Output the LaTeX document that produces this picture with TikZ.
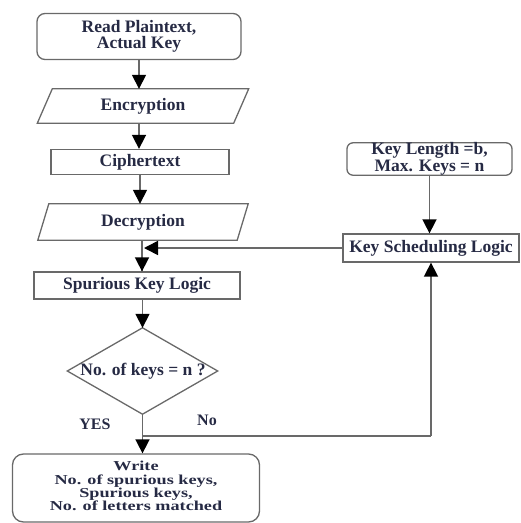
\documentclass[tikz,border=0pt]{standalone}
\usepackage{fontspec}
\setmainfont{Liberation Serif}
\usetikzlibrary{arrows.meta}
\definecolor{txtc}{RGB}{38,42,68}
\definecolor{linec}{RGB}{105,105,105}
\tikzset{
  txt/.style={font=\fontsize{17.5}{16.5}\selectfont\bfseries, text=txtc, align=center, inner sep=0pt},
  box/.style={txt, draw=linec, line width=1.3pt},
  rbox/.style={box, rounded corners=8pt},
  pshape/.style={draw=linec, line width=1.3pt},
  flow/.style={draw=linec, line width=1.6pt, -{Triangle[width=14pt,length=14pt,color=black]}},
  wire/.style={draw=linec, line width=1.6pt},
  lbl/.style={font=\fontsize{16}{16}\selectfont\bfseries, text=txtc, inner sep=0pt}
}
\begin{document}
\begin{tikzpicture}[x=1pt,y=-1pt]
\useasboundingbox (0,0) rectangle (521,523);
\begin{scope}
\clip (0,0) rectangle (521,523);
% main column
\node[rbox, minimum width=204pt, minimum height=46pt] (read) at (139,36.5) {Read Plaintext,\\Actual Key};
\node[txt, minimum width=196pt, minimum height=34pt] (enc) at (143,106) {Encryption};
\draw[pshape] ([xshift=-7.5pt]enc.south west) -- ([xshift=-7.5pt]enc.south east) -- ([xshift=7.5pt]enc.north east) -- ([xshift=7.5pt]enc.north west) -- cycle;
\node[box, minimum width=178pt, minimum height=25pt] (cipher) at (140,162) {Ciphertext};
\node[txt, minimum width=199pt, minimum height=36pt] (dec) at (143,222) {Decryption};
\draw[pshape] ([xshift=-5.5pt]dec.south west) -- ([xshift=-5.5pt]dec.south east) -- ([xshift=5.5pt]dec.north east) -- ([xshift=5.5pt]dec.north west) -- cycle;
\node[box, minimum width=206pt, minimum height=27pt] (spur) at (137,285.5) {Spurious Key Logic};
\coordinate (dc) at (142.5,371);
\node[draw=none, minimum width=150pt, minimum height=86pt, inner sep=0pt] (dia) at (dc) {};
\draw[pshape] (dia.west) -- (dia.north) -- (dia.east) -- (dia.south) -- cycle;
\node[txt] (q) at (143,371) {No. of keys = n ?};
\node[box, rounded corners=11pt, minimum width=247pt, minimum height=68pt] (write) at (136,488)
  {\scalebox{1.04}[0.78]{\begin{tabular}{@{}c@{}}Write\\No. of spurious keys,\\Spurious keys,\\No. of letters matched\end{tabular}}};
% right column
\node[rbox, rounded corners=6pt, minimum width=165pt, minimum height=32pt] (klen) at (429.5,159) {Key Length =b,\\Max. Keys = n};
\node[box, minimum width=176pt, minimum height=28pt] (ksl) at (431,248) {Key Scheduling Logic};
% connectors
\draw[flow] (read.south) -- (read.south |- enc.north);
\draw[flow] (read.south |- enc.south) -- (read.south |- cipher.north);
\draw[flow] (cipher.south) -- (cipher.south |- dec.north);
\draw[wire] ([xshift=-1pt]dec.south) -- ([xshift=-1pt]dec.south |- spur.north);
\draw[flow] ([xshift=-1pt]dec.south) -- ([xshift=-1pt]dec.south |- spur.north);
\draw[flow] (ksl.west) -- ([xshift=1pt]ksl.west -| dec.south);
\draw[flow] (dia.north |- spur.south) -- (dia.north);
\coordinate (j) at (142.5,436);
\draw[flow] (dia.south) -- (dia.south |- write.north);
\draw[wire] (j) -- (j -| ksl.south);
\draw[flow] (j -| ksl.south) -- (ksl.south);
\draw[flow] (klen.south) -- (klen.south |- ksl.north);
\node[lbl] (yes) at (95,424) {YES};
\node[lbl] (no) at (207,420) {No};
\end{scope}
\end{tikzpicture}
\end{document}
